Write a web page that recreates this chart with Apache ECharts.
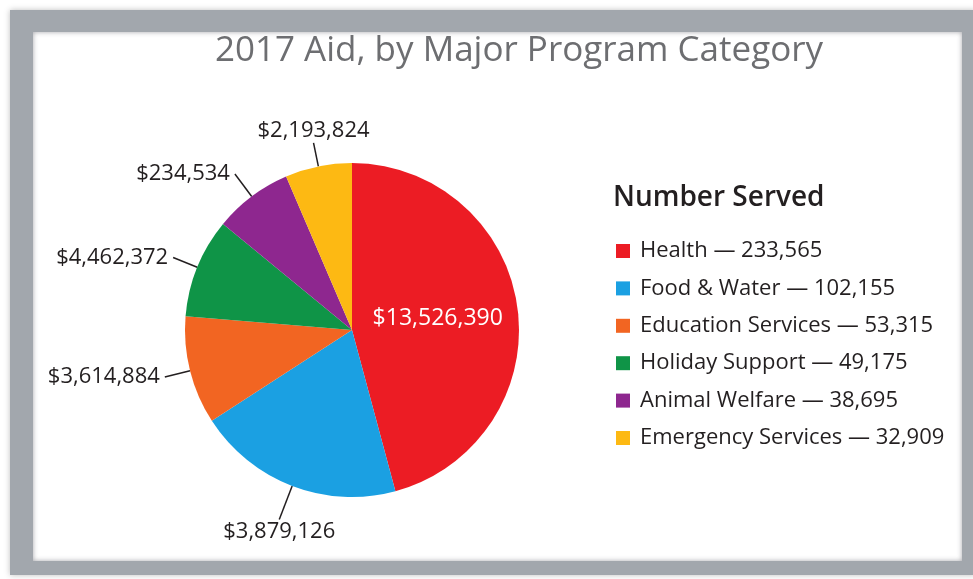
<!DOCTYPE html>
<html>
<head>
<meta charset="utf-8">
<script src="https://cdn.jsdelivr.net/npm/echarts@6/dist/echarts.min.js"></script>
<style>
html,body{margin:0;padding:0;background:#fff;overflow:hidden;width:973px;height:579px;}
#frame{position:absolute;left:10px;top:10px;width:929px;height:529px;
 border-style:solid;border-color:#a2a7ad;border-width:22px 14px 14px 23px;
 box-shadow:0 0 6px rgba(0,0,0,0.25), inset 0 0 5px rgba(60,60,70,0.45);background:#fff;}
#chart{position:absolute;left:0;top:0;width:973px;height:579px;}
</style>
</head>
<body>
<div id="frame"></div>
<div id="chart"></div>
<script>
const categories = ['Health','Food & Water','Education Services','Holiday Support','Animal Welfare','Emergency Services'];
const numberServed = [233565,102155,53315,49175,38695,32909];
const aidLabels = ['$13,526,390','$3,879,126','$3,614,884','$4,462,372','$234,534','$2,193,824'];
const colors = ['#ec1c24','#1ba0e2','#f26522','#0f9447','#8e278f','#fdb913'];

const fmt = n => n.toLocaleString('en-US');
const CX = 352, CY = 330;
const chart = echarts.init(document.getElementById('chart'), null, {renderer:'canvas'});
const lineLengths = [20, 36, 26, 26, 28, 24];
const data = categories.map((c,i)=>{
  const d = {name:c, value:numberServed[i], itemStyle:{color:colors[i]}, labelLine:{length:lineLengths[i], length2:0}};
  if(i===0){ d.label = {position:'inner', color:'#fff', fontSize:23}; }
  return d;
});
chart.setOption({
  backgroundColor:'transparent',
  animation:false,
  title:[
    {text:'2017 Aid, by Major Program Category', left:514, textAlign:'center', top:29,
     textStyle:{fontFamily:'Open Sans', fontSize:35, fontWeight:'normal', color:'#6d6e71'}},
    {text:'Number Served', left:608, top:179,
     textStyle:{fontFamily:'Open Sans', fontSize:28, fontWeight:600, color:'#231f20'}}
  ],
  legend:{
    orient:'vertical', left:611, top:234, icon:'rect', itemWidth:14, itemHeight:14,
    itemGap:13.4,
    data:categories,
    formatter: name => name + ' \u2014 ' + fmt(numberServed[categories.indexOf(name)]),
    textStyle:{fontFamily:'Open Sans', fontSize:22, color:'#231f20', lineHeight:24, padding:[0,0,0,5]}
  },
  series:[{
    type:'pie', center:[CX,CY], radius:167, startAngle:90, clockwise:true,
    data:data,
    label:{show:true, position:'outside', fontFamily:'Open Sans', fontSize:22, color:'#231f20',
      formatter: p => aidLabels[p.dataIndex]},
    labelLine:{show:true, lineStyle:{color:'#231f20', width:1.5}},
    labelLayout: function(p){
      const pts = p.labelLinePoints;
      if(!pts) return {};
      const end = pts[pts.length-1];
      const dx = end[0]-CX, dy = end[1]-CY;
      const len = Math.sqrt(dx*dx+dy*dy);
      if(Math.abs(dy)/len > 0.9){
        const down = dy > 0;
        return {x:end[0], y:end[1] + (down?1:-1), align:'center', verticalAlign: down?'top':'bottom', labelLinePoints:pts};
      }
      return {};
    },
    itemStyle:{borderWidth:0},
    emphasis:{disabled:true}
  }]
});
</script>
</body>
</html>
